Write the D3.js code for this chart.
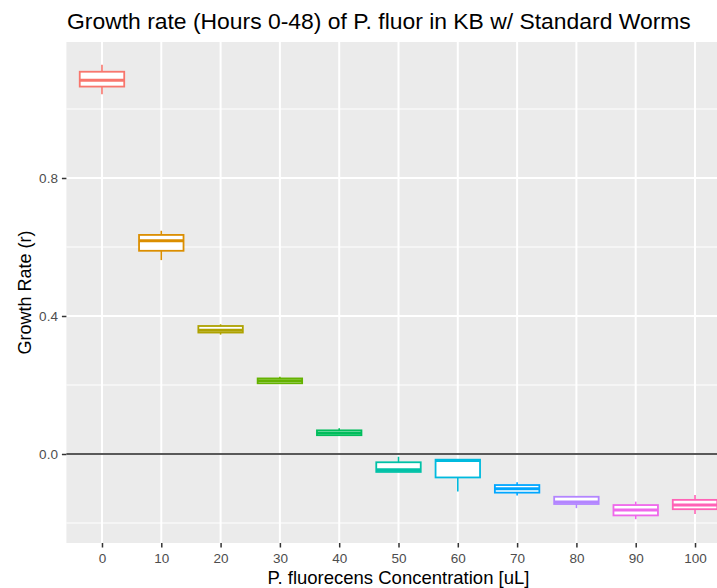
<!DOCTYPE html>
<html>
<head>
<meta charset="utf-8">
<script src="https://cdn.jsdelivr.net/npm/d3@7"></script>
<style>
  body { margin: 0; background: #fff; }
  svg { display: block; font-family: "Liberation Sans", Arial, sans-serif; }
</style>
</head>
<body>
<div id="chart"></div>
<script>
// concentrations on the x axis
const categories = ["0", "10", "20", "30", "40", "50", "60", "70", "80", "90", "100"];
// box stats
const whiskerLow  = [1.043, 0.562, 0.346, 0.204, 0.054, -0.052, -0.109, -0.120, -0.157, -0.189, -0.174];
const lowerQ      = [1.065, 0.589, 0.352, 0.205, 0.0545, -0.052, -0.068, -0.112, -0.145, -0.178, -0.160];
const medians     = [1.083, 0.618, 0.359, 0.212, 0.061, -0.046, -0.019, -0.101, -0.139, -0.162, -0.148];
const upperQ      = [1.108, 0.635, 0.371, 0.219, 0.0685, -0.024, -0.0165, -0.090, -0.124, -0.148, -0.133];
const whiskerHigh = [1.128, 0.647, 0.376, 0.224, 0.0745, -0.008, -0.0165, -0.082, -0.124, -0.138, -0.119];
const yTicks = [0.0, 0.4, 0.8];
const yMinor = [-0.2, 0.2, 0.6, 1.0];
const colors = ["#F8766D", "#DB8E00", "#AEA200", "#64B200", "#00BD5C", "#00C1A7",
                "#00BADE", "#00A6FF", "#B385FF", "#EF67EB", "#FF63B6"];

const width = 717, height = 588;
const panel = { left: 66.4, right: 730.6, top: 42, bottom: 543 };

const svg = d3.select("#chart").append("svg")
  .attr("width", width)
  .attr("height", height);

const x = d3.scalePoint()
  .domain(categories)
  .range([panel.left, panel.right])
  .padding(0.6);

const y = d3.scaleLinear()
  .domain([-0.258, 1.1942])
  .range([panel.bottom, panel.top]);

const boxW = x.step() * 0.75;

// panel background
svg.append("rect")
  .attr("x", panel.left)
  .attr("y", panel.top)
  .attr("width", panel.right - panel.left)
  .attr("height", panel.bottom - panel.top)
  .attr("fill", "#EBEBEB");

// grid
svg.append("g").selectAll("line").data(yMinor).join("line")
  .attr("x1", panel.left).attr("x2", panel.right)
  .attr("y1", d => y(d)).attr("y2", d => y(d))
  .attr("stroke", "#fff").attr("stroke-width", 1);
svg.append("g").selectAll("line").data(yTicks).join("line")
  .attr("x1", panel.left).attr("x2", panel.right)
  .attr("y1", d => y(d)).attr("y2", d => y(d))
  .attr("stroke", "#fff").attr("stroke-width", 2);
svg.append("g").selectAll("line").data(categories).join("line")
  .attr("x1", d => x(d)).attr("x2", d => x(d))
  .attr("y1", panel.top).attr("y2", panel.bottom)
  .attr("stroke", "#fff").attr("stroke-width", 2);

// zero line
svg.append("line")
  .attr("x1", panel.left).attr("x2", panel.right)
  .attr("y1", y(0)).attr("y2", y(0))
  .attr("stroke", "#595959").attr("stroke-width", 2);

// boxes
const boxes = svg.append("g").selectAll("g").data(categories).join("g");
boxes.append("line")
  .attr("x1", d => x(d)).attr("x2", d => x(d))
  .attr("y1", (d, i) => y(whiskerHigh[i])).attr("y2", (d, i) => y(upperQ[i]))
  .attr("stroke", (d, i) => colors[i]).attr("stroke-width", 1.6);
boxes.append("line")
  .attr("x1", d => x(d)).attr("x2", d => x(d))
  .attr("y1", (d, i) => y(lowerQ[i])).attr("y2", (d, i) => y(whiskerLow[i]))
  .attr("stroke", (d, i) => colors[i]).attr("stroke-width", 1.6);
boxes.append("rect")
  .attr("x", d => x(d) - boxW / 2)
  .attr("width", boxW)
  .attr("y", (d, i) => y(upperQ[i]))
  .attr("height", (d, i) => Math.max(0.5, y(lowerQ[i]) - y(upperQ[i])))
  .attr("fill", "#fff")
  .attr("stroke", (d, i) => colors[i]).attr("stroke-width", 1.8);
boxes.append("line")
  .attr("x1", d => x(d) - boxW / 2).attr("x2", d => x(d) + boxW / 2)
  .attr("y1", (d, i) => y(medians[i])).attr("y2", (d, i) => y(medians[i]))
  .attr("stroke", (d, i) => colors[i]).attr("stroke-width", 3);

// y axis
const yAxis = svg.append("g").attr("transform", `translate(${panel.left},0)`)
  .call(d3.axisLeft(y).tickValues(yTicks).tickFormat(d3.format(".1f")).tickSize(4.5).tickPadding(4));
yAxis.select(".domain").remove();
yAxis.selectAll(".tick line").attr("stroke", "#333").attr("stroke-width", 1.5);
yAxis.selectAll("text").attr("fill", "#4D4D4D").style("font-size", "13.5px");

// x axis
const xAxis = svg.append("g").attr("transform", `translate(0,${panel.bottom})`)
  .call(d3.axisBottom(x).tickSize(4.5).tickPadding(6));
xAxis.select(".domain").remove();
xAxis.selectAll(".tick line").attr("stroke", "#333").attr("stroke-width", 1.5);
xAxis.selectAll("text").attr("fill", "#4D4D4D").style("font-size", "13.5px");

// titles
svg.append("text")
  .attr("x", 67).attr("y", 29)
  .attr("font-size", 22.9)
  .attr("fill", "#000")
  .text("Growth rate (Hours 0-48) of P. fluor in KB w/ Standard Worms");

svg.append("text")
  .attr("x", (panel.left + panel.right) / 2).attr("y", 584)
  .attr("text-anchor", "middle")
  .attr("font-size", 18.5)
  .text("P. fluorecens Concentration [uL]");

svg.append("text")
  .attr("transform", `translate(31,${(panel.top + panel.bottom) / 2}) rotate(-90)`)
  .attr("text-anchor", "middle")
  .attr("font-size", 18)
  .text("Growth Rate (r)");
</script>
</body>
</html>
